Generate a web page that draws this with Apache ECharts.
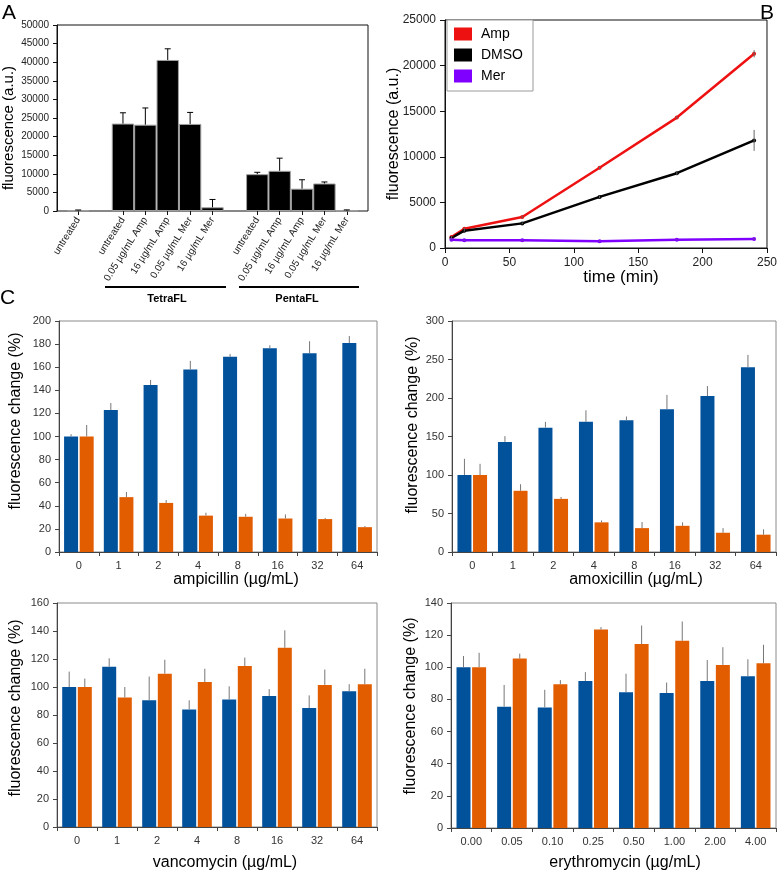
<!DOCTYPE html>
<html>
<head>
<meta charset="utf-8">
<script src="https://cdn.jsdelivr.net/npm/echarts@6/dist/echarts.min.js"></script>
<style>
html,body{margin:0;padding:0;background:#fff;}
#chart{width:780px;height:874px;}
</style>
</head>
<body>
<div id="chart"></div>
<script>
// ---------- Panel A data ----------
const panelACategories = ['untreated', ' ', 'untreated', '0.05 µg/mL Amp', '16 µg/mL Amp', '0.05 µg/mL Mer', '16 µg/mL Mer', '  ',
  'untreated', '0.05 µg/mL Amp', '16 µg/mL Amp', '0.05 µg/mL Mer', '16 µg/mL Mer'];
const panelAValues = [150, null, 23500, 23200, 40600, 23400, 1000, null, 9900, 10800, 6000, 7400, 100];
const panelAErrors = [120, null, 2900, 4500, 3000, 3100, 2100, null, 500, 3400, 2400, 400, 200];
const panelAYTicks = [0, 50000, 5000];

// ---------- Panel B data ----------
const timeMin = [5, 15, 60, 120, 180, 240];
const ampValues = [1200, 2100, 3400, 8800, 14300, 21300];
const ampErrors = [100, 150, 150, 150, 150, 400];
const dmsoValues = [1100, 1900, 2700, 5600, 8200, 11800];
const dmsoErrors = [100, 100, 100, 150, 200, 1150];
const merValues = [900, 850, 850, 750, 900, 1000];
const merErrors = [50, 50, 50, 50, 50, 80];

// ---------- Panel C data ----------
const concCategories = ['0', '1', '2', '4', '8', '16', '32', '64'];
const erythroCategories = ['0.00', '0.05', '0.10', '0.25', '0.50', '1.00', '2.00', '4.00'];

const ampicillinBlue = [100, 123, 144.5, 158, 169, 176.5, 172, 181];
const ampicillinBlueErr = [2, 6, 4.5, 7.5, 2.5, 2.5, 10.5, 6];
const ampicillinOrange = [100, 47.5, 42.5, 31.5, 30.5, 29, 28.5, 21.5];
const ampicillinOrangeErr = [10, 4.5, 2.5, 2.5, 2.5, 3.5, 1, 1];

const amoxicillinBlue = [100, 143, 161.5, 169, 171, 185.5, 202.5, 240];
const amoxicillinBlueErr = [21, 7.5, 7.5, 15, 5, 18.5, 13, 16];
const amoxicillinOrange = [100, 79.5, 69, 38.5, 31, 34, 25, 22.5];
const amoxicillinOrangeErr = [14.5, 8.5, 2.5, 2.5, 8, 4.5, 6, 7];

const vancomycinBlue = [100, 114.5, 90.5, 84, 91, 93.5, 85, 97];
const vancomycinBlueErr = [11, 6, 17, 6.5, 9.5, 5, 9, 5];
const vancomycinOrange = [100, 92.5, 109.5, 103.5, 115, 128, 101.5, 102];
const vancomycinOrangeErr = [6, 7.5, 10, 9.5, 6, 12.5, 11, 11];

const erythromycinBlue = [100, 75.5, 75, 91.5, 84.5, 84, 91.5, 94.5];
const erythromycinBlueErr = [7, 13.5, 11, 5.5, 11.5, 6.5, 13, 10.5];
const erythromycinOrange = [100, 105.5, 89.5, 123.5, 114.5, 116.5, 101.5, 102.5];
const erythromycinOrangeErr = [9, 3, 2.5, 1.5, 11.5, 12, 11, 11.5];

// ---------- styling ----------
const FONT = "'Liberation Sans', Arial, sans-serif";
const BLUE = '#02519b';
const ORANGE = '#e25c00';
const plain = v => String(v);

function errRender(offset, color, capHalf, width) {
  return function (params, api) {
    const i = api.value(0), lo = api.value(1), hi = api.value(2);
    const a = api.coord([i, lo]);
    const b = api.coord([i, hi]);
    const x = a[0] + offset;
    const children = [{ type: 'line', shape: { x1: x, y1: a[1], x2: x, y2: b[1] }, style: { stroke: color, lineWidth: width } }];
    if (capHalf > 0) {
      children.push({ type: 'line', shape: { x1: x - capHalf, y1: b[1], x2: x + capHalf, y2: b[1] }, style: { stroke: color, lineWidth: width } });
    }
    return { type: 'group', children };
  };
}

function upperErrData(vals, errs) {
  const out = [];
  vals.forEach((v, i) => { if (v != null) out.push([i, v, v + errs[i]]); });
  return out;
}
function symErrData(xs, vals, errs) {
  return xs.map((x, i) => [x, vals[i] - errs[i], vals[i] + errs[i]]);
}

const grids = [
  { left: 57, top: 25, width: 311, height: 186, show: true, borderColor: '#111', borderWidth: 1 },
  { left: 67, top: 25, width: 291, height: 186 },
  { left: 445, top: 20, width: 325, height: 228, show: true, borderColor: '#111', borderWidth: 1 },
  { left: 59, top: 321, width: 318, height: 231, show: true, borderColor: '#8a8a8a', borderWidth: 1 },
  { left: 452, top: 321, width: 324, height: 231, show: true, borderColor: '#8a8a8a', borderWidth: 1 },
  { left: 57, top: 603, width: 320, height: 224, show: true, borderColor: '#8a8a8a', borderWidth: 1 },
  { left: 451, top: 603, width: 325, height: 225, show: true, borderColor: '#8a8a8a', borderWidth: 1 }
];

function cXAxis(gi, cats) {
  return {
    gridIndex: gi, type: 'category', data: cats,
    axisLine: { show: true, lineStyle: { color: '#444', width: 1 } },
    axisTick: { show: true, length: 4, lineStyle: { color: '#444' } },
    axisLabel: { fontSize: 11, color: '#333', margin: 8, fontFamily: FONT, interval: 0 },
    splitLine: { show: false }
  };
}
function cYAxis(gi, max, interval) {
  return {
    gridIndex: gi, type: 'value', min: 0, max: max, interval: interval,
    axisLine: { show: true, lineStyle: { color: '#444', width: 1 } },
    axisTick: { show: true, length: 4, lineStyle: { color: '#444' } },
    axisLabel: { fontSize: 11, color: '#333', margin: 8, fontFamily: FONT, formatter: plain },
    splitLine: { show: false }
  };
}

const xAxes = [
  { gridIndex: 0, type: 'value', show: false, min: 0, max: 1 },
  {
    gridIndex: 1, type: 'category', data: panelACategories,
    axisLine: { show: false },
    axisTick: { show: true, alignWithLabel: true, length: 4, interval: (i, v) => v.trim() !== '', lineStyle: { color: '#111' } },
    axisLabel: { interval: 0, rotate: 58, fontSize: 10, color: '#222', margin: 7, fontFamily: FONT },
    splitLine: { show: false }
  },
  {
    gridIndex: 2, type: 'value', min: 0, max: 250, interval: 50,
    axisLine: { show: true, lineStyle: { color: '#111' } },
    axisTick: { show: true, length: 5, lineStyle: { color: '#111' } },
    axisLabel: { fontSize: 12, color: '#222', margin: 9, fontFamily: FONT, formatter: plain },
    splitLine: { show: false }
  },
  cXAxis(3, concCategories),
  cXAxis(4, concCategories),
  cXAxis(5, concCategories),
  cXAxis(6, erythroCategories)
];

const yAxes = [
  {
    gridIndex: 0, type: 'value', min: panelAYTicks[0], max: panelAYTicks[1], interval: panelAYTicks[2],
    axisLine: { show: true, lineStyle: { color: '#111' } },
    axisTick: { show: true, length: 4, lineStyle: { color: '#111' } },
    axisLabel: { fontSize: 10, color: '#222', margin: 8, fontFamily: FONT, formatter: plain },
    splitLine: { show: false }
  },
  { gridIndex: 1, type: 'value', min: 0, max: 50000, show: false, splitLine: { show: false } },
  {
    gridIndex: 2, type: 'value', min: 0, max: 25000, interval: 5000,
    axisLine: { show: true, lineStyle: { color: '#111' } },
    axisTick: { show: true, length: 5, lineStyle: { color: '#111' } },
    axisLabel: { fontSize: 12, color: '#222', margin: 9, fontFamily: FONT, formatter: plain },
    splitLine: { show: false }
  },
  cYAxis(3, 200, 20),
  cYAxis(4, 300, 50),
  cYAxis(5, 160, 20),
  cYAxis(6, 140, 20)
];

const series = [];
// Panel A
series.push({
  type: 'bar', xAxisIndex: 1, yAxisIndex: 1, data: panelAValues,
  barCategoryGap: '0%', itemStyle: { color: '#000', borderColor: '#a0a0a0', borderWidth: 1 }, z: 2
});
series.push({
  type: 'custom', xAxisIndex: 1, yAxisIndex: 1, data: upperErrData(panelAValues, panelAErrors),
  encode: { x: 0, y: [1, 2] }, renderItem: errRender(0, '#000', 3, 1), z: 5
});

// Panel B
const bSeries = [
  { name: 'Amp', vals: ampValues, errs: ampErrors, color: '#ee1111' },
  { name: 'DMSO', vals: dmsoValues, errs: dmsoErrors, color: '#000000' },
  { name: 'Mer', vals: merValues, errs: merErrors, color: '#7f00ff' }
];
bSeries.forEach(s => {
  series.push({
    name: s.name, type: 'line', xAxisIndex: 2, yAxisIndex: 2,
    data: timeMin.map((t, i) => [t, s.vals[i]]),
    symbol: 'circle', symbolSize: 4, showSymbol: true,
    lineStyle: { color: s.color, width: 2.5 }, itemStyle: { color: s.color }, z: 3
  });
  series.push({
    type: 'custom', xAxisIndex: 2, yAxisIndex: 2, data: symErrData(timeMin, s.vals, s.errs),
    encode: { x: 0, y: [1, 2] }, renderItem: errRender(0, '#666', 0, 1), z: 4
  });
});

// Panel C
const cPanels = [
  { gi: 3, blue: ampicillinBlue, blueErr: ampicillinBlueErr, orange: ampicillinOrange, orangeErr: ampicillinOrangeErr },
  { gi: 4, blue: amoxicillinBlue, blueErr: amoxicillinBlueErr, orange: amoxicillinOrange, orangeErr: amoxicillinOrangeErr },
  { gi: 5, blue: vancomycinBlue, blueErr: vancomycinBlueErr, orange: vancomycinOrange, orangeErr: vancomycinOrangeErr },
  { gi: 6, blue: erythromycinBlue, blueErr: erythromycinBlueErr, orange: erythromycinOrange, orangeErr: erythromycinOrangeErr }
];
const BARW = 14, GAPPX = 1.6;
cPanels.forEach(p => {
  series.push({ type: 'bar', xAxisIndex: p.gi, yAxisIndex: p.gi, data: p.blue, barWidth: BARW, barGap: (GAPPX / BARW * 100) + '%', itemStyle: { color: BLUE }, z: 2 });
  series.push({ type: 'bar', xAxisIndex: p.gi, yAxisIndex: p.gi, data: p.orange, barWidth: BARW, barGap: (GAPPX / BARW * 100) + '%', itemStyle: { color: ORANGE }, z: 2 });
  const off = (BARW + GAPPX) / 2;
  series.push({ type: 'custom', xAxisIndex: p.gi, yAxisIndex: p.gi, data: upperErrData(p.blue, p.blueErr), encode: { x: 0, y: [1, 2] }, renderItem: errRender(-off, '#777', 0, 1), z: 5 });
  series.push({ type: 'custom', xAxisIndex: p.gi, yAxisIndex: p.gi, data: upperErrData(p.orange, p.orangeErr), encode: { x: 0, y: [1, 2] }, renderItem: errRender(off, '#777', 0, 1), z: 5 });
});

function txt(x, y, text, size, opts) {
  opts = opts || {};
  return {
    type: 'text', x: x, y: y, rotation: opts.rot || 0, z: 100,
    style: {
      text: text, x: 0, y: 0, fill: opts.color || '#000',
      font: (opts.bold ? 'bold ' : '') + size + 'px ' + FONT,
      textAlign: opts.align || 'center', textVerticalAlign: 'middle'
    }
  };
}
const VERT = Math.PI / 2;
const graphics = [
  txt(2, 13, 'A', 21, { align: 'left' }),
  txt(760, 13, 'B', 21, { align: 'left' }),
  txt(0, 298, 'C', 21, { align: 'left' }),
  { type: 'line', z: 100, shape: { x1: 105, y1: 287, x2: 226, y2: 287 }, style: { stroke: '#000', lineWidth: 2 } },
  { type: 'line', z: 100, shape: { x1: 239, y1: 287, x2: 359, y2: 287 }, style: { stroke: '#000', lineWidth: 2 } },
  txt(167, 299, 'TetraFL', 11, { bold: true }),
  txt(297, 299, 'PentaFL', 11, { bold: true }),
  txt(9, 128, 'fluorescence (a.u.)', 15, { rot: VERT }),
  txt(394, 134, 'fluorescence (a.u.)', 16, { rot: VERT }),
  txt(621, 277, 'time (min)', 17),
  txt(16, 421, 'fluorescence change (%)', 16, { rot: VERT }),
  txt(413, 425, 'fluorescence change (%)', 16, { rot: VERT }),
  txt(16, 708, 'fluorescence change (%)', 16, { rot: VERT }),
  txt(411, 706, 'fluorescence change (%)', 16, { rot: VERT }),
  txt(236, 580, 'ampicillin (µg/mL)', 16),
  txt(636, 580, 'amoxicillin (µg/mL)', 16),
  txt(225, 863, 'vancomycin (µg/mL)', 16),
  txt(625, 863, 'erythromycin (µg/mL)', 16)
];

const chart = echarts.init(document.getElementById('chart'), null, { renderer: 'canvas' });
chart.setOption({
  animation: false,
  backgroundColor: '#fff',
  textStyle: { fontFamily: FONT },
  grid: grids,
  xAxis: xAxes,
  yAxis: yAxes,
  legend: {
    data: ['Amp', 'DMSO', 'Mer'], orient: 'vertical', left: 447, top: 20,
    padding: [7, 10, 8, 7], itemWidth: 18, itemHeight: 13, itemGap: 7, icon: 'rect',
    borderColor: '#9a9a9a', borderWidth: 1, backgroundColor: '#fff',
    textStyle: { fontSize: 14, color: '#000', fontFamily: FONT, padding: [0, 0, 0, 4] }
  },
  series: series,
  graphic: graphics
});
</script>
</body>
</html>
